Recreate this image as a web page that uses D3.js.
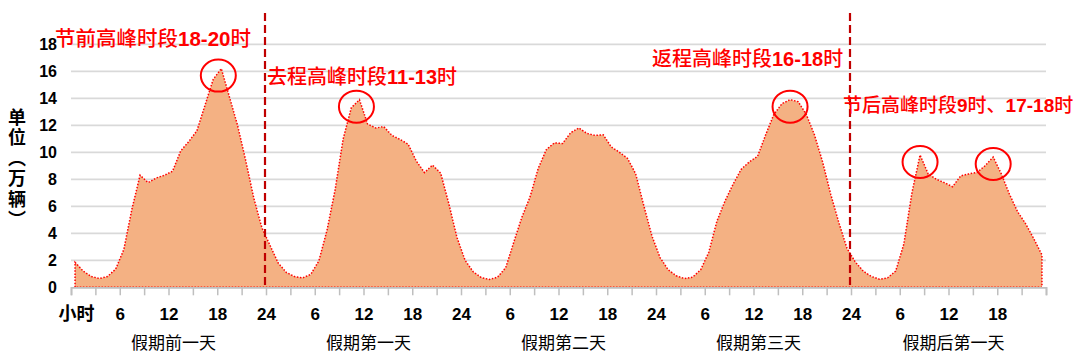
<!DOCTYPE html>
<html>
<head>
<meta charset="utf-8">
<script src="https://cdn.jsdelivr.net/npm/d3@7/dist/d3.min.js"></script>
<style>
  html, body { margin: 0; padding: 0; background: #ffffff; }
  svg { display: block; }
</style>
</head>
<body>
<svg id="chart" width="1080" height="356"></svg>
<script>
// ---------- data (万辆, hourly) ----------
const day1 = [1.85, 1.2, 0.8, 0.65, 0.8, 1.35, 2.8, 5.8, 8.3, 7.75, 8.1, 8.3, 8.6, 10.1, 10.8, 11.6, 13.5, 15.4, 16.2, 14.1, 12.0, 9.4, 6.6, 4.4];
const day2 = [3.1, 1.8, 1.1, 0.8, 0.7, 0.95, 1.95, 4.2, 7.2, 11.0, 13.3, 13.9, 12.1, 11.8, 11.9, 11.25, 10.95, 10.6, 9.35, 8.5, 9.05, 8.45, 6.2, 3.7];
const day3 = [2.0, 1.15, 0.72, 0.58, 0.75, 1.45, 3.35, 5.2, 6.7, 8.8, 10.2, 10.7, 10.65, 11.45, 11.8, 11.4, 11.25, 11.3, 10.4, 10.0, 9.55, 8.4, 6.05, 3.8];
const day4 = [2.2, 1.3, 0.85, 0.65, 0.75, 1.3, 2.6, 4.9, 6.4, 7.65, 8.75, 9.3, 9.7, 11.3, 12.8, 13.6, 13.9, 13.75, 12.8, 11.3, 9.3, 6.9, 4.8, 2.9];
const day5 = [1.9, 1.2, 0.8, 0.6, 0.7, 1.2, 3.2, 7.0, 9.8, 8.4, 8.0, 7.75, 7.45, 8.25, 8.4, 8.5, 9.0, 9.65, 8.4, 6.9, 5.6, 4.7, 3.6, 2.4];

const dayLabels = ["假期前一天", "假期第一天", "假期第二天", "假期第三天", "假期后第一天"];
const yTicks = [0, 2, 4, 6, 8, 10, 12, 14, 16, 18];
const hourLabelFirst = "小时";
const dividerHours = [24, 96];
const peakIndex = [18, 35, 88, 104, 113];
const annotations = [
  { text: "节前高峰时段18-20时", x: 55, y: 46, size: 20.5 },
  { text: "去程高峰时段11-13时", x: 267, y: 84, size: 20 },
  { text: "返程高峰时段16-18时", x: 652, y: 66, size: 20 },
  { text: "节后高峰时段9时、17-18时", x: 843, y: 112, size: 19 }
];
const yTitle = "单位（万辆）";

// ---------- build ----------
const days = [day1, day2, day3, day4, day5];
const values = [].concat(...days);
const points = values.map((v, i) => ({ i, v }));

const svg = d3.select("#chart");
const x = d3.scaleLinear().domain([0, 120]).range([71, 1046]);
const y = d3.scaleLinear().domain([0, 18]).range([287.3, 44.3]);

// gridlines
svg.append("g").selectAll("line")
  .data(yTicks.filter(t => t > 0))
  .join("line")
  .attr("x1", x(0)).attr("x2", x(120))
  .attr("y1", d => y(d)).attr("y2", d => y(d))
  .attr("stroke", "#d9d9d9").attr("stroke-width", 1.8);

// area
const area = d3.area()
  .x(d => x(d.i + 0.5))
  .y0(y(0))
  .y1(d => y(d.v));
svg.append("path")
  .datum(points)
  .attr("d", area)
  .attr("fill", "#f4b183")
  .attr("stroke", "#ff0000")
  .attr("stroke-width", 1.5)
  .attr("stroke-dasharray", "1.5,1.6");

// x axis
const tickHours = d3.range(0, 121, 3);
const xAxis = d3.axisBottom(x)
  .tickValues(tickHours)
  .tickSize(8)
  .tickFormat(h => {
    if (h === 0) return hourLabelFirst;
    if (h % 6 !== 0 || h === 120) return "";
    const r = h % 24;
    return r === 0 ? "24" : String(r);
  });
const gx = svg.append("g").attr("transform", `translate(0,${y(0)})`).call(xAxis);
gx.select(".domain").attr("stroke", "#bfbfbf").attr("stroke-width", 1.8);
gx.selectAll(".tick line").attr("stroke", "#bfbfbf").attr("stroke-width", 1.5);
gx.selectAll(".tick text")
  .attr("y", 33)
  .attr("dy", 0)
  .attr("fill", "#000")
  .style("font-family", "'Liberation Sans', Arial, sans-serif")
  .style("font-weight", "bold")
  .style("font-size", "17px");
gx.selectAll(".tick text").filter(d => d === 0)
  .attr("x", 5)
  .style("font-family", "'Noto Sans CJK SC', sans-serif")
  .style("font-size", "18px");

// y axis labels
const yAxis = d3.axisLeft(y).tickValues(yTicks).tickSize(0).tickPadding(0);
const gy = svg.append("g").attr("transform", `translate(57,0)`).call(yAxis);
gy.select(".domain").remove();
gy.selectAll(".tick text")
  .attr("fill", "#000")
  .style("font-family", "'Liberation Sans', Arial, sans-serif")
  .style("font-weight", "bold")
  .style("font-size", "16px");

// y title (vertical text)
svg.append("text")
  .attr("x", 17)
  .attr("y", 108)
  .style("writing-mode", "vertical-rl")
  .style("text-orientation", "mixed")
  .style("font-family", "'Noto Sans CJK SC', sans-serif")
  .style("font-weight", "bold")
  .style("font-size", "18px")
  .style("letter-spacing", "2.5px")
  .attr("fill", "#000")
  .text(yTitle);

// day labels
svg.append("g").selectAll("text")
  .data(dayLabels)
  .join("text")
  .attr("x", (d, i) => x(i * 24 + 12) + 5)
  .attr("y", 349)
  .attr("text-anchor", "middle")
  .style("font-family", "'Noto Sans CJK SC', sans-serif")
  .style("font-size", "17px")
  .attr("fill", "#000")
  .text(d => d);

// dividers
svg.append("g").selectAll("line")
  .data(dividerHours)
  .join("line")
  .attr("x1", d => x(d) - 1).attr("x2", d => x(d) - 1)
  .attr("y1", 13).attr("y2", y(0))
  .attr("stroke", "#c00000")
  .attr("stroke-width", 2.2)
  .attr("stroke-dasharray", "8,4");

// circles on peaks
svg.append("g").selectAll("ellipse")
  .data(peakIndex)
  .join("ellipse")
  .attr("cx", (d, k) => x(d + 0.5) - (k < 2 ? 3 : 0))
  .attr("cy", d => y(values[d]) + 7)
  .attr("rx", 17.5).attr("ry", 16)
  .attr("fill", "none")
  .attr("stroke", "#ff0000")
  .attr("stroke-width", 2);

// annotations: CJK normal, ascii bold
const ann = svg.append("g").selectAll("text")
  .data(annotations)
  .join("text")
  .attr("x", d => d.x).attr("y", d => d.y)
  .attr("fill", "#ff0000")
  .style("font-size", d => d.size + "px");
ann.each(function(d) {
  const runs = d.text.match(/[\x00-\x7F]+|[^\x00-\x7F]+/g);
  const t = d3.select(this);
  runs.forEach(r => {
    const ascii = /^[\x00-\x7F]+$/.test(r);
    t.append("tspan")
      .style("font-family", ascii ? "'Liberation Sans', Arial, sans-serif" : "'Noto Sans CJK SC', sans-serif")
      .style("font-weight", ascii ? "bold" : "500")
      .text(r);
  });
});
</script>
</body>
</html>
